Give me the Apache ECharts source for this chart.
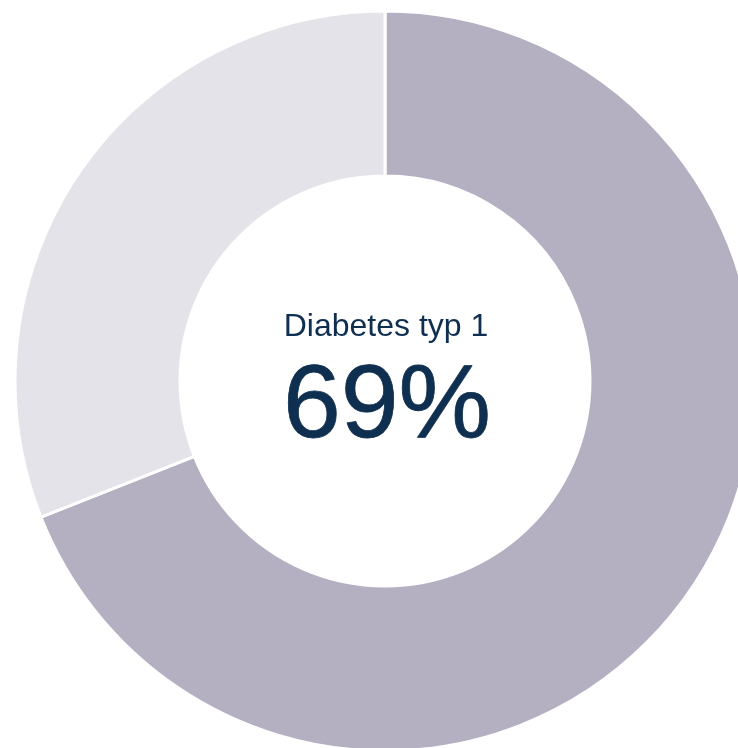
<!DOCTYPE html>
<html>
<head>
<meta charset="utf-8">
<style>
  html, body { margin: 0; padding: 0; background: #fff; }
  #chart { width: 738px; height: 748px; }
</style>
<script src="https://cdn.jsdelivr.net/npm/echarts@6/dist/echarts.min.js"></script>
</head>
<body>
<div id="chart"></div>
<script>
// 数据
const categories = ['Diabetes typ 1', 'Övriga']
const values = [69, 31]
const colors = ['#b4b0c2', '#e4e3e9']
const centerLabel = 'Diabetes typ 1'
const centerValue = '69%'

const chart = echarts.init(document.getElementById('chart'))
const option = {
  animation: false,
  graphic: [
    {
      type: 'text',
      x: 386,
      y: 327,
      style: {
        text: centerLabel,
        fontFamily: 'Liberation Sans, Arial',
        fontSize: 32,
        fill: '#0e2f50',
        textAlign: 'center',
        textVerticalAlign: 'middle'
      }
    },
    {
      type: 'text',
      x: 387,
      y: 408,
      style: {
        text: centerValue,
        fontFamily: 'Liberation Sans, Arial',
        fontSize: 104,
        fill: '#0e2f50',
        stroke: '#0e2f50',
        lineWidth: 0.8,
        textAlign: 'center',
        textVerticalAlign: 'middle'
      }
    }
  ],
  series: [
    {
      type: 'pie',
      center: [385, 381],
      radius: [205, 370],
      startAngle: 90,
      clockwise: true,
      label: { show: false },
      labelLine: { show: false },
      emphasis: { disabled: true },
      itemStyle: { borderColor: '#fff', borderWidth: 3 },
      data: categories.map((name, i) => ({
        name: name,
        value: values[i],
        itemStyle: { color: colors[i] }
      }))
    }
  ]
}
chart.setOption(option)
</script>
</body>
</html>
